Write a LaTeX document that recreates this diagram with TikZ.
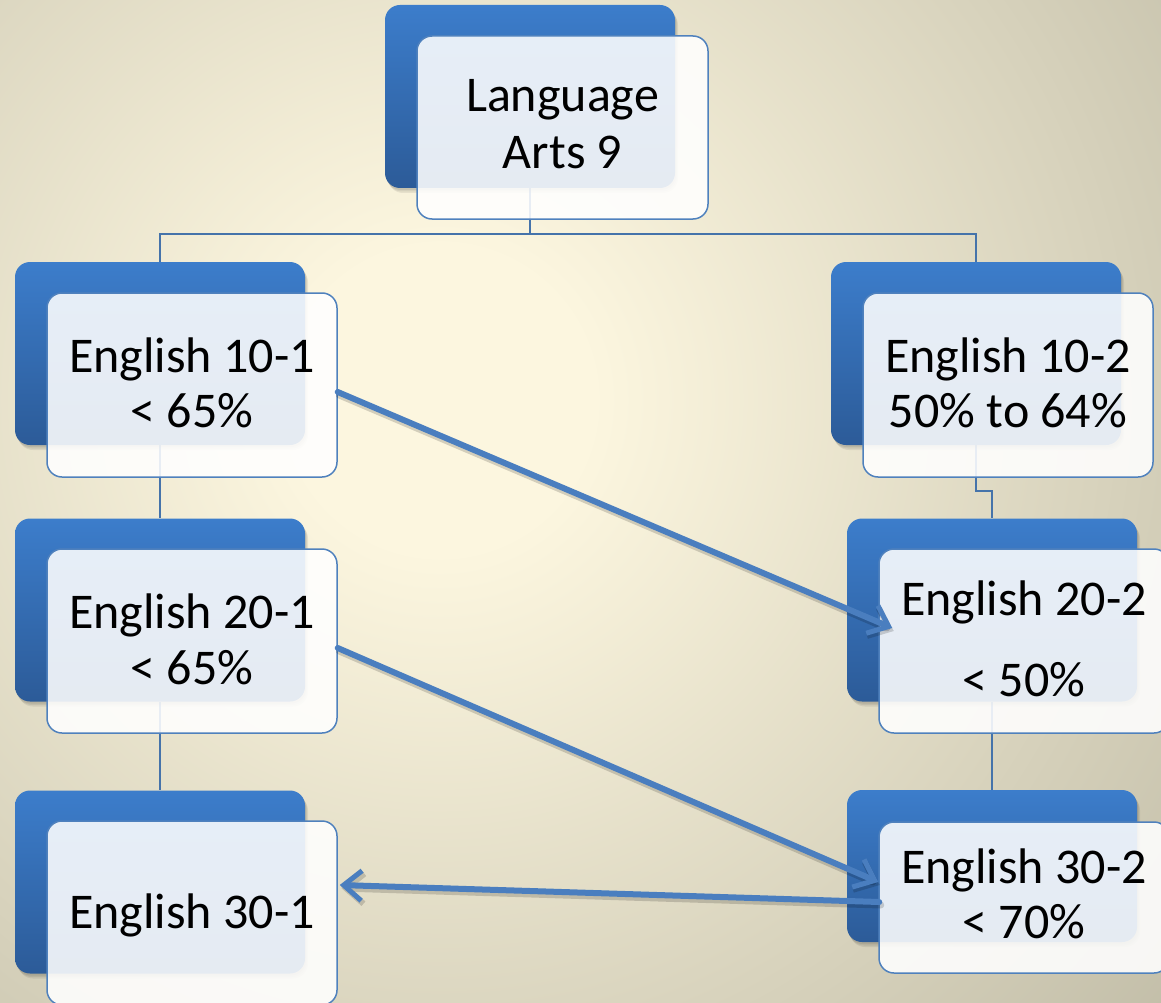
\documentclass[tikz,border=0pt]{standalone}
\usepackage{fontspec}
\setmainfont{Carlito}
\usetikzlibrary{arrows.meta}
\definecolor{bgA}{HTML}{FCF6DF}
\definecolor{bgB}{HTML}{B0AC97}
\definecolor{blueTop}{HTML}{3C7DCB}
\definecolor{blueBot}{HTML}{2C5B98}
\definecolor{edgeC}{HTML}{4F81BD}
\definecolor{connC}{HTML}{4573AA}
\definecolor{arrC}{HTML}{4A7EBF}
\pgfdeclareradialshading{bgshade}{\pgfpoint{0bp}{0bp}}{color(0bp)=(bgA); color(4bp)=(bgA); color(32bp)=(bgB); color(50bp)=(bgB)}
\pgfdeclarelayer{back}
\pgfdeclarelayer{mid}
\pgfsetlayers{back,mid,main}
\begin{document}
\begin{tikzpicture}[x=1pt,y={(0pt,-1pt)},
  bluebox/.style={rectangle, rounded corners=15pt, minimum width=290pt, minimum height=183pt,
    top color=blueTop, bottom color=blueBot, draw=none, inner sep=0pt,
    preaction={fill=black, fill opacity=0.07, transform canvas={xshift=1pt,yshift=-2pt}},
    preaction={fill=black, fill opacity=0.07, transform canvas={xshift=2pt,yshift=-3.5pt}},
    preaction={fill=black, fill opacity=0.07, transform canvas={xshift=3pt,yshift=-5pt}}},
  whitebox/.style={rectangle, rounded corners=15pt, minimum width=290pt, minimum height=184pt,
    fill=white, fill opacity=0.88, draw=edgeC, line width=1.5pt, inner sep=0pt},
  txt/.style={font=\fontsize{50}{55}\selectfont, anchor=base, inner sep=0pt, text=black},
  conn/.style={draw=connC, line width=1.6pt},
  arrowline/.style={draw=arrC, line width=6pt, line cap=round,
    -{Straight Barb[length=18pt, width=30pt, line width=5pt]}},
  arrowshadow/.style={draw=black, draw opacity=0.16, line width=7pt, line cap=round,
    -{Straight Barb[length=18pt, width=30pt, line width=6pt]}}
]
\useasboundingbox (0,0) rectangle (1161,1003);
\begin{pgfonlayer}{back}
  \fill[bgB] (0,0) rectangle (1161,1003);
  \shade[shading=bgshade] (440,400) circle (950pt);
\end{pgfonlayer}

% blue back boxes
\node[bluebox] (b0) at (530,96.5) {};
\node[bluebox] (b1) at (160,353.5) {};
\node[bluebox] (b2) at (160,610) {};
\node[bluebox] (b3) at (160,882) {};
\node[bluebox] (b4) at (976,353.5) {};
\node[bluebox] (b5) at (992,610) {};
\node[bluebox, minimum height=152pt] (b6) at (992,866) {};

% connectors (behind the boxes)
\begin{pgfonlayer}{mid}
  \draw[conn] (b0.south) -- ++(0,46) -| (b1.north);
  \draw[conn] (b0.south) -- ++(0,46) -| (b4.north);
  \draw[conn] (b1.south) -- (b2.north);
  \draw[conn] (b2.south) -- (b3.north);
  \draw[conn] (b4.south) -- ++(0,46) -| (b5.north);
  \draw[conn] (b5.south) -- (b6.north);
\end{pgfonlayer}

% white front boxes
\node[whitebox, minimum width=291pt, minimum height=183pt] (w0) at (562.5,127.5) {};
\node[whitebox] (w1) at (192,385) {};
\node[whitebox] (w2) at (192,641) {};
\node[whitebox] (w3) at (192,913) {};
\node[whitebox] (w4) at (1008,385) {};
\node[whitebox] (w5) at (1024,641) {};
\node[whitebox, minimum height=151pt] (w6) at (1024,897.5) {};

% arrow shadows
\begin{scope}[transform canvas={xshift=1.5pt,yshift=-3pt}]
\draw[arrowshadow] ([yshift=-7pt]w1.east) -- ([xshift=14pt,yshift=13pt]w5.west);
\draw[arrowshadow] ([yshift=-7pt]w2.east) -- ([xshift=0pt,yshift=15.5pt]w6.west);
\draw[arrowshadow] ([xshift=1pt,yshift=-4.5pt]w6.west) -- ([xshift=2pt,yshift=28pt]w3.east);
\end{scope}
% arrows
\draw[arrowline] ([yshift=-7pt]w1.east) -- ([xshift=14pt,yshift=13pt]w5.west);
\draw[arrowline] ([yshift=-7pt]w2.east) -- ([xshift=0pt,yshift=15.5pt]w6.west);
\draw[arrowline] ([xshift=1pt,yshift=-4.5pt]w6.west) -- ([xshift=2pt,yshift=28pt]w3.east);

% texts
\node[txt] (t0a) at (562.5,112) {Language};
\node[txt] (t0b) at (562.5,168) {Arts 9};
\node[txt] (t1a) at (192,372) {English 10-1};
\node[txt] (t1b) at (192,427) {< 65\%};
\node[txt] (t2a) at (192,628) {English 20-1};
\node[txt] (t2b) at (192,684) {< 65\%};
\node[txt] (t3a) at (192,928) {English 30-1};
\node[txt] (t4a) at (1008,372) {English 10-2};
\node[txt] (t4b) at (1008,427) {50\% to 64\%};
\node[txt] (t5a) at (1024,615) {English 20-2};
\node[txt] (t5b) at (1024,696) {< 50\%};
\node[txt] (t6a) at (1024,883) {English 30-2};
\node[txt] (t6b) at (1024,938) {< 70\%};
\end{tikzpicture}
\end{document}
